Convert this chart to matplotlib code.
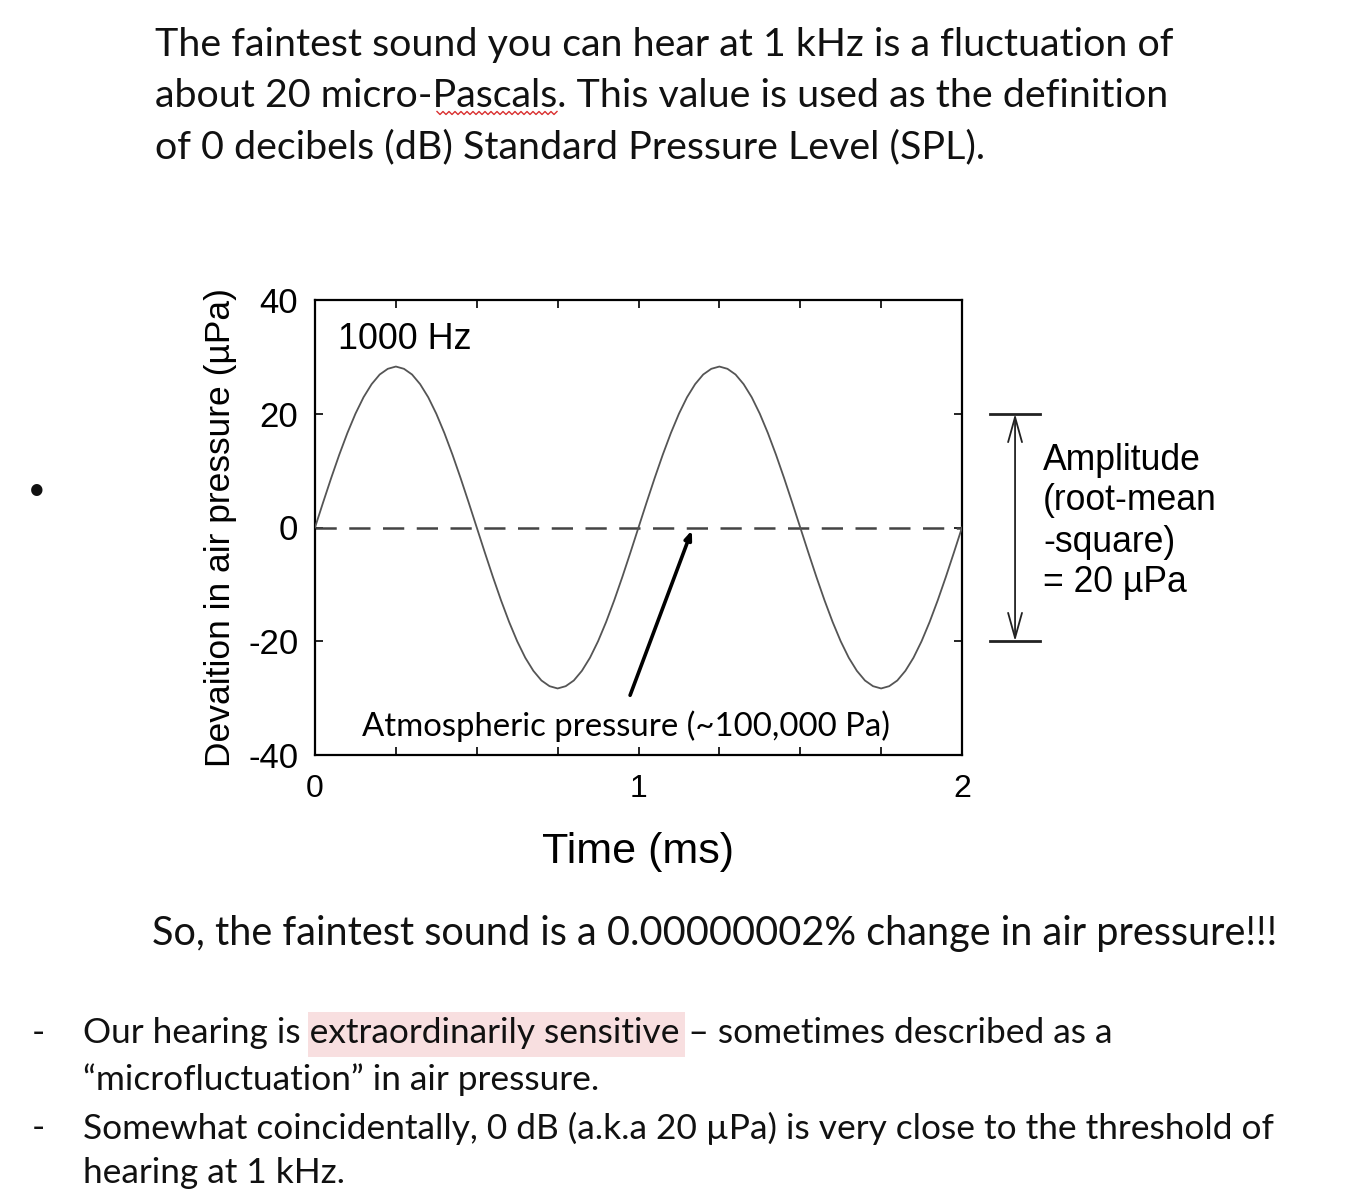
import matplotlib
matplotlib.use("Agg")
import matplotlib.pyplot as plt
from matplotlib.lines import Line2D
from matplotlib.patches import Rectangle
from matplotlib.ticker import MultipleLocator
import numpy as np

W, H = 1363, 1200

# Data: 1000 Hz tone, 20 uPa rms (peak ~28.3 uPa)
# one cycle sampled every 0.025 ms (values in uPa)
pressure_cycle = [0.0, 4.4, 8.7, 12.8, 16.6, 20.0, 22.9, 25.2, 26.9, 27.9,
                  28.3, 27.9, 26.9, 25.2, 22.9, 20.0, 16.6, 12.8, 8.7, 4.4,
                  0.0, -4.4, -8.7, -12.8, -16.6, -20.0, -22.9, -25.2, -26.9, -27.9,
                  -28.3, -27.9, -26.9, -25.2, -22.9, -20.0, -16.6, -12.8, -8.7, -4.4]
pressure = pressure_cycle + pressure_cycle + [0.0]
time_ms = np.linspace(0, 2, len(pressure))
baseline = 0
rms_level = 20
x_ticks = [0, 1, 2]
y_ticks = [-40, -20, 0, 20, 40]

DOC_FONT = ['Lato', 'DejaVu Sans']
PLOT_FONT = ['Liberation Sans', 'DejaVu Sans']
plt.rcParams['axes.unicode_minus'] = False


def fx(x):
    return x / W


def fy(y):
    return 1 - y / H


fig = plt.figure(figsize=(W / 100, H / 100), dpi=100)
fig.patch.set_facecolor('white')
renderer = fig.canvas.get_renderer()

# --- document text above the chart
top_lines = ["The faintest sound you can hear at 1 kHz is a fluctuation of",
             "about 20 micro-Pascals. This value is used as the definition",
             "of 0 decibels (dB) Standard Pressure Level (SPL)."]
for i, line in enumerate(top_lines):
    fig.text(fx(155), fy(45 + 51 * i), line, fontsize=28.4, family=DOC_FONT,
             ha='left', va='center', color='#111111')

# red spell-check squiggle under "Pascals"
zx = np.arange(437, 558, 3)
zy = 113 + np.where(np.arange(len(zx)) % 2 == 0, -1.5, 1.5)
fig.add_artist(Line2D(fx(zx), fy(zy), transform=fig.transFigure,
                      color='#d93030', lw=1.0))

# bullet at left
fig.text(fx(37), fy(490), "\u2022", fontsize=22, family=DOC_FONT,
         ha='center', va='center', color='#111111')

# --- the chart
ax = fig.add_axes([fx(315), fy(755), (962 - 315) / W, (755 - 300) / H])
ax.plot(time_ms, pressure, color='#555555', lw=1.3, zorder=3)
ax.axhline(baseline, color='#444444', lw=1.8, dashes=(8.5, 5), zorder=2)

ax.set_xlim(0, 2)
ax.set_ylim(-40, 40)
ax.set_xticks(x_ticks)
ax.set_yticks(y_ticks)
ax.xaxis.set_minor_locator(MultipleLocator(0.25))
ax.tick_params(which='both', direction='in', top=True, right=True,
               length=6, width=1.2)
ax.tick_params(axis='x', labelsize=23, pad=14)
ax.tick_params(axis='y', labelsize=25, pad=12)
for lab in ax.get_xticklabels() + ax.get_yticklabels():
    lab.set_family(PLOT_FONT)
for sp in ax.spines.values():
    sp.set_linewidth(1.6)

ax.set_xlabel("Time (ms)", fontsize=31, family=PLOT_FONT, labelpad=20)
ax.set_ylabel("Devaition in air pressure (\u00b5Pa)", fontsize=25.5,
              family=PLOT_FONT, labelpad=8)

ax.text(0.07, 33, "1000 Hz", fontsize=25.8, family=PLOT_FONT,
        ha='left', va='center')
ax.text(0.96, -35, "Atmospheric pressure (~100,000 Pa)", fontsize=23.7,
        family=DOC_FONT, ha='center', va='center')
ax.annotate("", xy=(1.165, -0.5), xytext=(0.974, -29.5),
            arrowprops=dict(arrowstyle='-|>,head_length=0.5,head_width=0.2',
                            color='black', lw=2.6, shrinkA=0, shrinkB=0))

# amplitude bracket outside the axes
for lvl in (rms_level, -rms_level):
    ax.plot([2.087, 2.241], [lvl, lvl], color='#222222', lw=2.0, clip_on=False)
ax.annotate("", xy=(2.164, rms_level), xytext=(2.164, -rms_level),
            arrowprops=dict(arrowstyle='<->,head_length=1.8,head_width=0.5',
                            color='#222222', lw=1.3, shrinkA=0, shrinkB=0),
            annotation_clip=False)
amp_lines = ["Amplitude", "(root-mean", "-square)", "= 20 \u00b5Pa"]
for i, line in enumerate(amp_lines):
    fig.text(fx(1043), fy(460 + 41 * i), line, fontsize=25.6, family=PLOT_FONT,
             ha='left', va='center')

# --- document text below the chart
fig.text(fx(152), fy(933),
         "So, the faintest sound is a 0.00000002% change in air pressure!!!",
         fontsize=28.5, family=DOC_FONT, ha='left', va='center', color='#111111')

BOT_FS = 25.4


def text_width_px(s):
    t = fig.text(0, 0, s, fontsize=BOT_FS, family=DOC_FONT)
    w = t.get_window_extent(renderer).width
    t.remove()
    return w


# highlight behind "extraordinarily sensitive"
pre = "Our hearing is "
mid = "extraordinarily sensitive"
x0 = 83 + text_width_px(pre)
x1 = 83 + text_width_px(pre + mid)
fig.add_artist(Rectangle((fx(x0 - 2), fy(1057)), (x1 - x0 + 8) / W, 45 / H,
                         transform=fig.transFigure, facecolor='#f8dfe0',
                         edgecolor='none', zorder=0))
bottom_lines = [
    (1033, "Our hearing is extraordinarily sensitive \u2013 sometimes described as a"),
    (1080, "\u201cmicrofluctuation\u201d in air pressure."),
    (1128, "Somewhat coincidentally, 0 dB (a.k.a 20 \u00b5Pa) is very close to the threshold of"),
    (1173, "hearing at 1 kHz."),
]
for y, s in bottom_lines:
    fig.text(fx(83), fy(y), s, fontsize=BOT_FS, family=DOC_FONT,
             ha='left', va='center', color='#111111', zorder=2)
for y in (1033, 1128):
    fig.text(fx(38), fy(y), "-", fontsize=BOT_FS, family=DOC_FONT,
             ha='center', va='center', color='#111111')

fig.savefig("out.png", dpi=100, facecolor='white')
